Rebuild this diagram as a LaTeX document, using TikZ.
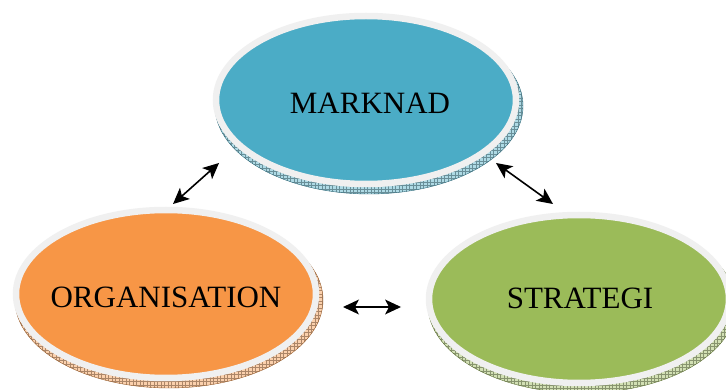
\documentclass[tikz,border=0pt]{standalone}
\usepackage{fontspec}
\setmainfont{Liberation Serif}
\usetikzlibrary{shapes.geometric}

\definecolor{mblue}{HTML}{4BACC6}
\definecolor{morange}{HTML}{F79646}
\definecolor{mgreen}{HTML}{9BBB59}
\definecolor{rimgray}{HTML}{F0F0F0}

\tikzset{
  disc/.style={ellipse, draw=rimgray, line width=6.5pt, minimum width=300pt,
    minimum height=168pt, inner sep=0pt},
  disctext/.style={font=\fontsize{31}{37}\selectfont, inner sep=0pt},
  link/.style={line width=1.6pt, black, shorten <=10pt, shorten >=10pt}
}

% filled arrow head with its tip on a named point, pointing at the given angle
\newcommand{\headat}[2]{%
  \fill[black, shift={(#1)}, rotate=#2] (0,0) -- (-16,7.5) -- (-12,0) -- (-16,-7.5) -- cycle;
}

% thin hatched rim under each disc, giving it some thickness
\newcommand{\discbase}[3]{%
  \begin{scope}
    \clip (#1,#2) ellipse [x radius=154pt, y radius=88pt];
    \fill[#3!45!white] (#1-160,#2-95) rectangle (#1+160,#2+95);
    \draw[#3!55!black!70!white, line width=0.3pt, step=3.5pt] (#1-160,#2-95) grid (#1+160,#2+95);
  \end{scope}
  \draw[#3!60!black, line width=0.4pt] (#1,#2) ellipse [x radius=154pt, y radius=88pt];
}

\begin{document}
\begin{tikzpicture}[x=1pt, y=-1pt]
  \useasboundingbox (0,0) rectangle (726,390);
  \fill[white] (0,0) rectangle (726,390);

  % bases
  \discbase{369}{106}{mblue}
  \discbase{169}{300}{morange}
  \discbase{582}{305}{mgreen}

  % discs
  \node[disc, fill=mblue]   (mark)  at (366,100) {};
  \node[disc, fill=morange] (org)   at (166,294) {};
  \node[disc, fill=mgreen]  (strat) at (579,299) {};

  % labels
  \node[disctext] (markt)  at (370,103) {MARKNAD};
  \node[disctext] (orgt)   at (166,297) {ORGANISATION};
  \node[disctext] (stratt) at (580,298) {STRATEGI};

  % arrow ends in the gaps between the discs
  \coordinate (mo1) at (219,163);
  \coordinate (mo2) at (173,204);
  \coordinate (ms1) at (496,163);
  \coordinate (ms2) at (553,204);
  \coordinate (os1) at (343,307);
  \coordinate (os2) at (401,307);

  \draw[link] (mo2) -- (mo1);
  \draw[link] (ms1) -- (ms2);
  \draw[link] (os1) -- (os2);

  \headat{mo1}{41.7}
  \headat{mo2}{221.7}
  \headat{ms2}{-35.7}
  \headat{ms1}{144.3}
  \headat{os2}{0}
  \headat{os1}{180}
\end{tikzpicture}
\end{document}
